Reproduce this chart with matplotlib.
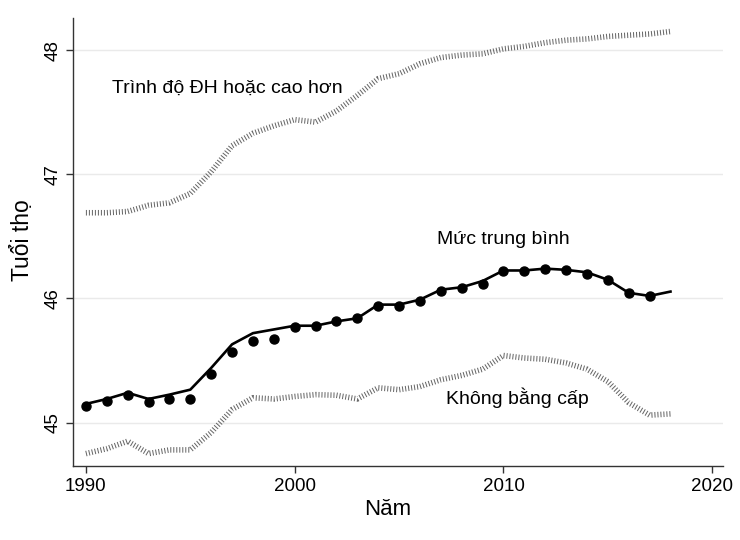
import matplotlib
matplotlib.use('Agg')
import matplotlib.pyplot as plt

plt.rcParams['font.family'] = ['Liberation Sans', 'DejaVu Sans']

# Years
years = list(range(1990, 2019))
dot_years = list(range(1990, 2018))

# Average (solid line, smoothed) and yearly observed dots
avg_line = [45.15, 45.19, 45.24, 45.19, 45.225, 45.265, 45.44, 45.63, 45.72, 45.75,
            45.78, 45.78, 45.815, 45.84, 45.95, 45.95, 45.99, 46.07, 46.09, 46.14,
            46.225, 46.225, 46.24, 46.23, 46.21, 46.15, 46.045, 46.02, 46.055]
avg_dots = [45.137, 45.177, 45.225, 45.169, 45.19, 45.19, 45.39, 45.57, 45.66, 45.67,
            45.77, 45.775, 45.815, 45.84, 45.94, 45.94, 45.98, 46.06, 46.08, 46.115,
            46.22, 46.22, 46.24, 46.225, 46.20, 46.145, 46.04, 46.02]

# University degree or higher
college = [46.69, 46.69, 46.70, 46.75, 46.77, 46.845, 47.02, 47.23, 47.33, 47.39,
           47.44, 47.42, 47.51, 47.635, 47.77, 47.81, 47.89, 47.94, 47.96, 47.97,
           48.01, 48.03, 48.06, 48.08, 48.09, 48.11, 48.12, 48.13, 48.15]

# No degree
nodegree = [44.75, 44.79, 44.85, 44.75, 44.78, 44.78, 44.92, 45.105, 45.20, 45.19,
            45.21, 45.225, 45.22, 45.19, 45.28, 45.265, 45.29, 45.345, 45.38, 45.43,
            45.54, 45.52, 45.51, 45.48, 45.43, 45.33, 45.16, 45.06, 45.07]

xticks = [1990, 2000, 2010, 2020]
yticks = [45, 46, 47, 48]

fig = plt.figure(figsize=(7.4, 5.4), dpi=100)
ax = fig.add_axes([0.0986, 0.137, 0.878, 0.83])

dot_style = (0, (0.18, 0.36))
ax.plot(years, college, color='#666666', lw=4, linestyle=dot_style, solid_capstyle='butt')
ax.plot(years, nodegree, color='#666666', lw=4, linestyle=dot_style, solid_capstyle='butt')
ax.plot(years, avg_line, color='black', lw=1.9)
ax.plot(dot_years, avg_dots, 'o', color='black', markersize=6.5)

ax.text(1996.76, 47.69, 'Trình độ ĐH hoặc cao hơn', fontsize=14, ha='center', va='center')
ax.text(2010.0, 46.475, 'Mức trung bình', fontsize=14, ha='center', va='center')
ax.text(2010.67, 45.2, 'Không bằng cấp', fontsize=14, ha='center', va='center')

ax.set_xlim(1989.38, 2020.5)
ax.set_ylim(44.65, 48.26)
ax.set_xticks(xticks)
ax.set_yticks(yticks)
ax.set_yticklabels([str(v) for v in yticks], rotation=90, va='center')
ax.tick_params(labelsize=13.5, length=5, width=1, direction='out', color='#333333')
ax.grid(axis='y', color='#eaeaea', lw=1)
ax.set_axisbelow(True)

for s in ['top', 'right']:
    ax.spines[s].set_visible(False)
for s in ['left', 'bottom']:
    ax.spines[s].set_color('#333333')
    ax.spines[s].set_linewidth(1)

ax.set_xlabel('Năm', fontsize=16, va='center')
ax.xaxis.set_label_coords(0.485, -0.098)
ax.set_ylabel('Tuổi thọ', fontsize=16.5, va='center')
ax.yaxis.set_label_coords(-0.077, 0.505)

fig.savefig('out.png', dpi=100, facecolor='white')
